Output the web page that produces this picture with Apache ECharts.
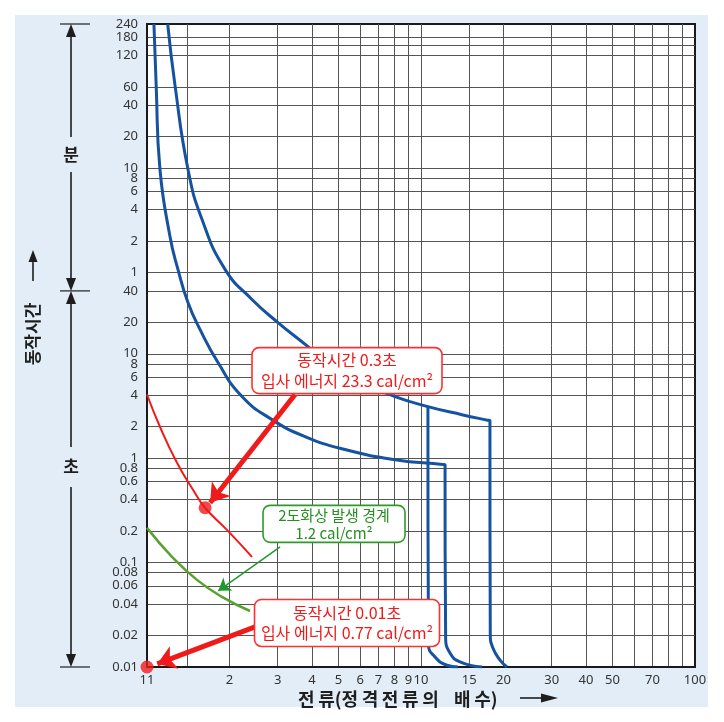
<!DOCTYPE html>
<html>
<head>
<meta charset="utf-8">
<script src="https://cdn.jsdelivr.net/npm/echarts@6/dist/echarts.min.js"></script>
<style>
html,body{margin:0;padding:0;background:#fff;}
#chart{width:724px;height:722px;}
</style>
</head>
<body>
<div id="chart"></div>
<script>
// 축: x = 정격전류의 배수, y = 동작시간(초)
const xTickLabels = [1, 2, 3, 4, 5, 6, 7, 8, 9, 10, 15, 20, 30, 40, 50, 70, 100];
const xGridLines = [1.4, 2, 3, 4, 5, 6, 7, 8, 9, 10, 15, 20, 30, 40, 50, 60, 70, 80, 90];
const yTickLabels = [0.01, 0.02, 0.04, 0.06, 0.08, 0.1, 0.2, 0.4, 0.6, 0.8, 1, 2, 4, 6, 8, 10, 20, 40,
  60, 120, 240, 360, 480, 600, 1200, 2400, 3600, 7200, 10800, 14400];
const yGridLines = [0.02, 0.04, 0.06, 0.08, 0.1, 0.2, 0.4, 0.6, 0.8, 1, 2, 4, 6, 8, 10, 20, 40,
  60, 120, 240, 360, 480, 600, 1200, 2400, 3600, 7200, 9000, 10800];

// 차단기 동작 곡선 (파랑)
const curveAx = [1.06, 1.08, 1.115, 1.213, 1.297, 1.411, 1.561, 1.816, 2.222, 2.86, 3.77, 5.28, 8.04, 12.0, 12.24, 12.24, 12.3, 12.76, 13.88, 16.7];
const curveAy = [14400, 3740, 585, 133, 64.3, 31, 17.1, 8.24, 3.89, 2.34, 1.61, 1.21, 0.968, 0.872, 0.867, 0.85, 0.0194, 0.0136, 0.0112, 0.01];
const curveBx = [1.19, 1.265, 1.411, 1.587, 1.927, 2.416, 3.006, 3.87, 4.73, 6.09, 8.04, 10.6, 14.1, 17.5, 17.85, 17.85, 17.9, 18.3, 19.4, 20.6];
const curveBy = [14400, 3740, 585, 194, 64.3, 33.1, 19.9, 11.7, 7.55, 5.30, 3.89, 3.12, 2.61, 2.31, 2.29, 2.2, 0.0203, 0.0152, 0.0117, 0.01];
const curveCx = [10.6, 10.6, 10.65, 11.25, 12.44, 13.65];
const curveCy = [3.12, 3.0, 0.0163, 0.0125, 0.0104, 0.01];

// 입사 에너지 곡선 (빨강) / 2도화상 경계 (초록)
const redX = [1, 1.115, 1.287, 1.472, 1.628, 1.958, 2.416];
const redY = [4.07, 2.0, 0.905, 0.499, 0.335, 0.206, 0.1136];
const greenX = [1, 1.234, 1.522, 1.877, 2.376];
const greenY = [0.215, 0.1136, 0.0683, 0.0469, 0.0344];

const dotPoints = [[1.63, 0.335], [1, 0.01]];

const zip = (xs, ys) => xs.map((x, i) => [x, ys[i]]);

const BLUE = '#15529f';
const RED = '#f01a1a';
const GREEN = '#5aa12e';
const KR = '"Noto Sans CJK KR", sans-serif';

function yLabel(v) {
  if (v >= 50) return String(Math.round(v / 60));
  return String(v);
}

var chart = echarts.init(document.getElementById('chart'));
let option = {
  animation: false,
  backgroundColor: '#fff',
  grid: {
    left: 147, right: 29, top: 24, bottom: 55,
    show: true, backgroundColor: '#fff', borderColor: '#1a1a1a', borderWidth: 2
  },
  xAxis: {
    type: 'log', logBase: 10, min: 1, max: 100,
    axisLine: { show: true, lineStyle: { color: '#1a1a1a', width: 2 } },
    axisTick: { show: false, customValues: xGridLines },
    splitLine: { show: true, lineStyle: { color: '#555', width: 1 } },
    minorTick: { show: false }, minorSplitLine: { show: false },
    axisLabel: {
      customValues: xTickLabels,
      formatter: v => (v === 1 ? '11' : String(v)),
      color: '#333', fontSize: 13, margin: 7, fontFamily: 'Noto Sans'
    }
  },
  yAxis: {
    type: 'log', logBase: 10, min: 0.01, max: 14400,
    axisLine: { show: true, lineStyle: { color: '#1a1a1a', width: 2 } },
    axisTick: { show: false, customValues: yGridLines },
    splitLine: { show: true, lineStyle: { color: '#555', width: 1 } },
    minorTick: { show: false }, minorSplitLine: { show: false },
    axisLabel: {
      customValues: yTickLabels,
      formatter: yLabel,
      color: '#333', fontSize: 13, margin: 9, fontFamily: 'Noto Sans'
    }
  },
  series: [
    { name: 'A', type: 'line', data: zip(curveAx, curveAy), showSymbol: false, smooth: 0.5,
      lineStyle: { color: BLUE, width: 3 }, z: 3 },
    { name: 'B', type: 'line', data: zip(curveBx, curveBy), showSymbol: false, smooth: 0.5,
      lineStyle: { color: BLUE, width: 3 }, z: 3 },
    { name: 'C', type: 'line', data: zip(curveCx, curveCy), showSymbol: false, smooth: 0.5,
      lineStyle: { color: BLUE, width: 3 }, z: 3 },
    { name: 'red', type: 'line', data: zip(redX, redY), showSymbol: false, smooth: 0.5,
      lineStyle: { color: RED, width: 2 }, z: 4,
      markLine: {
        silent: true, symbol: ['none', 'arrow'], symbolSize: 18,
        lineStyle: { color: RED, width: 5, type: 'solid' }, label: { show: false },
        data: [
          [{ coord: [3.47, 4.07] }, { coord: [1.70, 0.374] }],
          [{ coord: [2.48, 0.0242] }, { coord: [1.09, 0.0107] }]
        ]
      } },
    { name: 'green', type: 'line', data: zip(greenX, greenY), showSymbol: false, smooth: 0.5,
      lineStyle: { color: GREEN, width: 2.5 }, z: 4,
      markLine: {
        silent: true, symbol: ['none', 'arrow'], symbolSize: 12,
        lineStyle: { color: '#1f9a2a', width: 1.5, type: 'solid' }, label: { show: false },
        data: [[{ coord: [3.06, 0.1416] }, { coord: [1.82, 0.0536] }]]
      } },
    { name: 'dots', type: 'scatter', data: dotPoints, symbolSize: 13, clip: false,
      itemStyle: { color: RED }, z: 6 }
  ]
};
chart.setOption(option);

// 주석 상자, 좌측 구간 표시
function px(x, y) { return chart.convertToPixel({ gridIndex: 0 }, [x, y]); }

function box(cx, cy, w, h, lines, color, textColor, size, lh) {
  const p = px(cx, cy);
  return [
    { type: 'rect', z: 100, shape: { x: p[0] - w / 2, y: p[1] - h / 2, width: w, height: h, r: 7 },
      style: { fill: '#fff', stroke: color, lineWidth: 1.6 } },
    { type: 'text', z: 101, x: p[0], y: p[1],
      style: { text: lines.join('\n'), align: 'center', verticalAlign: 'middle', fill: textColor,
        font: size + 'px ' + KR, lineHeight: lh } }
  ];
}

const yTop = px(1, 14400)[1];
const yMid = px(1, 40)[1];
const yBot = px(1, 0.01)[1];
const ax = 71;
const dark = '#1e1e1e';
function vline(y1, y2) { return { type: 'line', shape: { x1: ax, y1: y1, x2: ax, y2: y2 }, style: { stroke: dark, lineWidth: 1.6 } }; }
function hline(y) { return { type: 'line', shape: { x1: 60, y1: y, x2: 90, y2: y }, style: { stroke: dark, lineWidth: 1.2 } }; }
function headUp(y) { return { type: 'polygon', shape: { points: [[ax, y], [ax - 5, y + 13], [ax + 5, y + 13]] }, style: { fill: dark } }; }
function headDown(y) { return { type: 'polygon', shape: { points: [[ax, y], [ax - 5, y - 13], [ax + 5, y - 13]] }, style: { fill: dark } }; }

const sp = '\u2009';
const xName = '전' + sp + '류(정' + sp + '격' + sp + '전' + sp + '류' + sp + '의' + sp + sp + '  배' + sp + '수)';

const graphics = [
  { type: 'rect', z: -10, shape: { x: 15, y: 15, width: 693, height: 692 }, style: { fill: '#e3edf8' } },
  hline(yTop), hline(yMid), hline(yBot),
  headUp(yTop), vline(yTop + 10, 137), vline(172, yMid - 10), headDown(yMid),
  headUp(yMid), vline(yMid + 10, 447), vline(487, yBot - 10), headDown(yBot),
  { type: 'text', x: ax, y: 155, style: { text: '분', align: 'center', verticalAlign: 'middle', fill: dark, font: 'bold 17px ' + KR } },
  { type: 'text', x: ax, y: 467, style: { text: '초', align: 'center', verticalAlign: 'middle', fill: dark, font: 'bold 17px ' + KR } },
  { type: 'text', x: 33, y: 334, rotation: Math.PI / 2,
    style: { text: '동작시간', align: 'center', verticalAlign: 'middle', fill: dark, font: 'bold 17px ' + KR } },
  { type: 'line', shape: { x1: 33, y1: 281, x2: 33, y2: 258 }, style: { stroke: dark, lineWidth: 1.6 } },
  { type: 'polygon', shape: { points: [[33, 250], [28.5, 262], [37.5, 262]] }, style: { fill: dark } },
  { type: 'text', x: 298, y: 699,
    style: { text: xName, align: 'left', verticalAlign: 'middle', fill: dark, font: 'bold 18px ' + KR } },
  { type: 'line', shape: { x1: 520, y1: 698, x2: 545, y2: 698 }, style: { stroke: dark, lineWidth: 1.6 } },
  { type: 'polygon', shape: { points: [[558, 698], [541, 693.5], [541, 702.5]] }, style: { fill: dark } }
];

graphics.push.apply(graphics, box(5.37, 6.9, 190, 46, ['동작시간 0.3초', '입사 에너지 23.3 cal/cm²'], '#ff3030', RED, 16, 21));
graphics.push.apply(graphics, box(4.815, 0.235, 142, 37, ['2도화상 발생 경계', '1.2 cal/cm²'], '#2f9a2a', '#24901f', 15, 18));
graphics.push.apply(graphics, box(5.37, 0.0264, 185, 47, ['동작시간 0.01초', '입사 에너지 0.77 cal/cm²'], '#ff3030', RED, 16, 20));

chart.setOption({ graphic: graphics });
</script>
</body>
</html>
